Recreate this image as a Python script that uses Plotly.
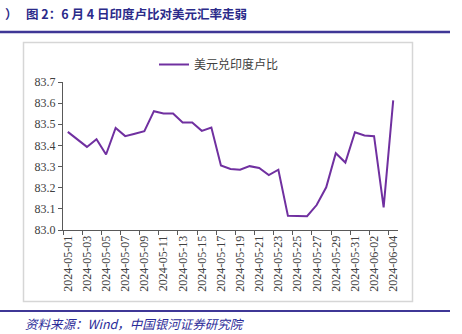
import plotly.graph_objects as go

# ---- data ----
dates = [
    "2024-05-01", "2024-05-02", "2024-05-03", "2024-05-04", "2024-05-05",
    "2024-05-06", "2024-05-07", "2024-05-08", "2024-05-09", "2024-05-10",
    "2024-05-11", "2024-05-12", "2024-05-13", "2024-05-14", "2024-05-15",
    "2024-05-16", "2024-05-17", "2024-05-18", "2024-05-19", "2024-05-20",
    "2024-05-21", "2024-05-22", "2024-05-23", "2024-05-24", "2024-05-25",
    "2024-05-26", "2024-05-27", "2024-05-28", "2024-05-29", "2024-05-30",
    "2024-05-31", "2024-06-01", "2024-06-02", "2024-06-03", "2024-06-04",
]
usd_inr = [
    83.464, 83.428, 83.393, 83.429, 83.357,
    83.483, 83.444, 83.455, 83.467, 83.562,
    83.551, 83.551, 83.508, 83.508, 83.469,
    83.485, 83.305, 83.289, 83.285, 83.302,
    83.293, 83.260, 83.285, 83.067, 83.065,
    83.065, 83.118, 83.202, 83.363, 83.319,
    83.462, 83.447, 83.444, 83.107, 83.613,
]
series_name = "美元兑印度卢比"
y_ticks = [83.0, 83.1, 83.2, 83.3, 83.4, 83.5, 83.6, 83.7]
title_text = "）   图 2：6 月 4 日印度卢比对美元汇率走弱"
source_text = "资料来源：Wind，中国银河证券研究院"

# ---- layout geometry (pixels) ----
W, H = 462, 334
PL, PR, PT, PB = 63, 398, 82, 230  # plot area in pixels

def px_x(p):
    return (p - PL) / (PR - PL)

def px_y(p):
    return (PB - p) / (PB - PT)

def hline(x0, x1, y, color, width):
    return dict(type="line", xref="paper", yref="paper",
                x0=px_x(x0), x1=px_x(x1), y0=px_y(y), y1=px_y(y),
                line=dict(color=color, width=width))

idx = list(range(len(dates)))

fig = go.Figure()
fig.add_trace(go.Scatter(
    x=idx, y=usd_inr, mode="lines", name=series_name,
    line=dict(color="#7030A0", width=2),
    showlegend=True,
))

serif = "Liberation Serif"
cjk = "Noto Sans CJK SC"
box_c = "#D6D6D6"

fig.update_layout(
    width=W, height=H,
    margin=dict(l=PL, r=W - PR, t=PT, b=H - PB),
    paper_bgcolor="white", plot_bgcolor="white",
    showlegend=True,
    legend=dict(
        x=px_x(154), y=px_y(50), xanchor="left", yanchor="top",
        orientation="h", bgcolor="rgba(0,0,0,0)",
        font=dict(family=cjk, size=12, color="#404040"),
    ),
    xaxis=dict(
        range=[-0.5, len(dates) - 0.5],
        tickmode="array",
        tickvals=idx[::2],
        ticktext=dates[::2],
        tickangle=-90,
        ticks="",
        showline=True, linecolor="#595959", linewidth=1,
        showgrid=False, zeroline=False,
        tickfont=dict(family=serif, size=12, color="#404040"),
        minor=dict(ticks="outside", tick0=-0.5, dtick=2, ticklen=4,
                   tickcolor="#595959", tickwidth=1, showgrid=False),
    ),
    yaxis=dict(
        range=[83.0, 83.7],
        tickmode="array",
        tickvals=y_ticks,
        ticktext=[f"{v:.1f}" for v in y_ticks],
        ticks="outside", ticklen=4, tickcolor="#595959",
        showline=True, linecolor="#595959", linewidth=1,
        showgrid=False, zeroline=False,
        tickfont=dict(family=serif, size=12, color="#404040"),
    ),
    shapes=[
        # chart-area border
        dict(type="rect", xref="paper", yref="paper",
             x0=px_x(23.5), x1=px_x(412.5), y0=px_y(301.5), y1=px_y(42.5),
             line=dict(color=box_c, width=1.5), fillcolor="rgba(0,0,0,0)",
             layer="below"),
        # top rule
        hline(0, 450, 32, "#3F3796", 2.5),
        # bottom rule
        hline(0, 450, 311, "#3F3796", 2),
    ],
    annotations=[
        dict(text="<b>" + title_text + "</b>", xref="paper", yref="paper",
             x=px_x(3), y=px_y(13), xanchor="left", yanchor="middle",
             showarrow=False,
             font=dict(family=cjk, size=12.5, color="#2B2B8A")),
        dict(text="<i>" + source_text + "</i>", xref="paper", yref="paper",
             x=px_x(23), y=px_y(323), xanchor="left", yanchor="middle",
             showarrow=False,
             font=dict(family=cjk, size=12.5, color="#2B2B99")),
    ],
)

fig.write_html("out.html")
